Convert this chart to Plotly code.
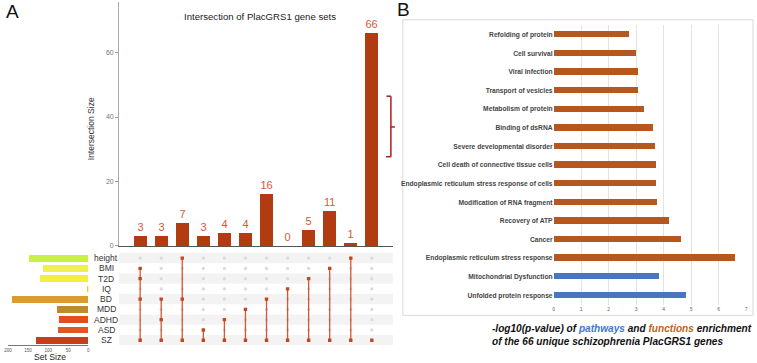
import plotly.graph_objects as go

W, H = 757, 363


def px(x):
    return x / W


def py(y):
    return 1 - y / H


# ---------------- Panel A data (UpSet) ----------------
set_names = ["height", "BMI", "T2D", "IQ", "BD", "MDD", "ADHD", "ASD", "SZ"]
set_sizes = [148, 113, 121, 3, 190, 77, 74, 76, 131]
set_colors = ["#c8f046", "#eef04e", "#f4ee3c", "#f3c640", "#dc9c2c",
              "#bf8a2a", "#e0501e", "#df5a22", "#c3401c"]

intersection_sizes = [3, 3, 7, 3, 4, 4, 16, 0, 5, 11, 1, 66]
intersection_members = [
    ["BMI", "T2D", "BD", "SZ"],
    ["BD", "ADHD", "SZ"],
    ["height", "BD", "SZ"],
    ["ASD", "SZ"],
    ["ADHD", "SZ"],
    ["MDD", "SZ"],
    ["BD", "SZ"],
    ["IQ", "SZ"],
    ["T2D", "SZ"],
    ["BMI", "SZ"],
    ["height", "SZ"],
    ["SZ"],
]
bar_ticks = [0, 20, 40, 60]
set_ticks = [0, 50, 100, 150, 200]

# ---------------- Panel B data ----------------
terms = [
    "Refolding of protein", "Cell survival", "Viral Infection",
    "Transport of vesicles", "Metabolism of protein", "Binding of dsRNA",
    "Severe developmental disorder", "Cell death of connective tissue cells",
    "Endoplasmic reticulum stress response of cells",
    "Modification of RNA fragment", "Recovery of ATP", "Cancer",
    "Endoplasmic reticulum stress response", "Mitochondrial Dysfunction",
    "Unfolded protein response",
]
neglog10_p = [2.74, 3.0, 3.06, 3.06, 3.29, 3.61, 3.69, 3.72, 3.71, 3.73,
              4.18, 4.62, 6.6, 3.83, 4.81]
term_type = ["function"] * 13 + ["pathway"] * 2
type_colors = {"function": "#b4581f", "pathway": "#4a76bf"}

FONT = "Liberation Sans"
BAR_COLOR = "#b23c12"
DOT_COLOR = "#c4461e"

n_sets = len(set_names)
row_of = {s: n_sets - 1 - i for i, s in enumerate(set_names)}
cols = list(range(len(intersection_sizes)))

fig = go.Figure()

# Intersection bars
fig.add_trace(go.Bar(
    x=cols, y=intersection_sizes, xaxis="x", yaxis="y",
    marker=dict(color=BAR_COLOR, line=dict(width=0)), width=0.62,
    text=[str(v) for v in intersection_sizes], textposition="outside",
    outsidetextfont=dict(size=11, color="#d4573a", family=FONT),
    cliponaxis=False, showlegend=False,
))

# Matrix grey dots
gx, gy = [], []
for c, mem in zip(cols, intersection_members):
    for s in set_names:
        if s not in mem:
            gx.append(c)
            gy.append(row_of[s])
fig.add_trace(go.Scatter(
    x=gx, y=gy, xaxis="x2", yaxis="y2", mode="markers",
    marker=dict(color="#dadada", size=3.2), showlegend=False,
))

# Matrix member dots & connectors
for c, mem in zip(cols, intersection_members):
    ys = sorted(row_of[s] for s in mem)
    fig.add_trace(go.Scatter(
        x=[c] * len(ys), y=ys, xaxis="x2", yaxis="y2", mode="lines+markers",
        line=dict(color="#cd5a36", width=1.3),
        marker=dict(color=DOT_COLOR, size=3.4, symbol="square"),
        showlegend=False,
    ))

# Set size bars
fig.add_trace(go.Bar(
    x=set_sizes, y=[row_of[s] for s in set_names], orientation="h",
    xaxis="x3", yaxis="y3", width=0.66,
    marker=dict(color=set_colors, line=dict(width=0)), showlegend=False,
))

# Panel B bars
fig.add_trace(go.Bar(
    x=neglog10_p, y=terms, orientation="h", xaxis="x4", yaxis="y4",
    width=0.34, marker=dict(color=[type_colors[t] for t in term_type],
                            line=dict(width=0)),
    showlegend=False,
))

shapes = []
# stripes
for s in set_names:
    r = row_of[s]
    if r % 2 == 0:
        shapes.append(dict(type="rect", xref="x2 domain", yref="y2",
                           x0=0, x1=1, y0=r - 0.5, y1=r + 0.5,
                           fillcolor="#f3f3f3", line=dict(width=0),
                           layer="below"))
# panel B frame
shapes.append(dict(type="rect", xref="paper", yref="paper",
                   x0=px(402), x1=px(755), y0=py(318), y1=py(20),
                   line=dict(color="#d9d9d9", width=1), layer="below"))
# bracket
bc = "#b01c1c"
for (x0, y0, x1, y1) in [(390, 97, 390, 158), (385.5, 97, 390, 97),
                         (385, 158, 390, 158), (390, 128, 394, 128)]:
    shapes.append(dict(type="line", xref="paper", yref="paper",
                       x0=px(x0), y0=py(y0), x1=px(x1), y1=py(y1),
                       line=dict(color=bc, width=1.5)))

annotations = [
    dict(text="A", x=px(9), y=py(12), font=dict(size=19, color="#111")),
    dict(text="B", x=px(403), y=py(10), font=dict(size=19, color="#111")),
    dict(text="Intersection of PlacGRS1 gene sets", x=px(258), y=py(17),
         font=dict(size=9.6, color="#222")),
    dict(text="Intersection Size", x=px(88), y=py(130), textangle=-90,
         font=dict(size=8.5, color="#333")),
    dict(text="Set Size", x=px(46), y=py(360), font=dict(size=8.6, color="#222")),
    dict(text=("<b><i>-log10(p-value) of <span style='color:#3d79cf'>pathways</span> "
               "and <span style='color:#c0621c'>functions</span> enrichment<br>"
               "of the 66 unique schizophrenia PlacGRS1 genes</i></b>"),
         x=px(490), y=py(338), xanchor="left", align="left",
         font=dict(size=10.1, color="#111")),
]
for s in set_names:
    annotations.append(dict(text=s, x=px(103), y=row_of[s], yref="y2",
                            font=dict(size=8.5, color="#333")))
for a in annotations:
    a.setdefault("xref", "paper")
    a.setdefault("yref", "paper")
    a.setdefault("xanchor", "center")
    a.setdefault("yanchor", "middle")
    a["showarrow"] = False

fig.update_layout(
    width=W, height=H, margin=dict(l=0, r=0, t=0, b=0),
    paper_bgcolor="white", plot_bgcolor="rgba(0,0,0,0)",
    font=dict(family=FONT, color="#333"), bargap=0,
    shapes=shapes, annotations=annotations,
    xaxis=dict(domain=[px(116), px(392)], range=[-1, 12], anchor="y",
               showticklabels=False, ticks="", showgrid=False, zeroline=False,
               showline=True, linecolor="#555", linewidth=1),
    yaxis=dict(domain=[py(248), py(2)], range=[0, 75.7], anchor="x",
               tickvals=bar_ticks, ticks="outside", ticklen=3,
               tickcolor="#999", tickfont=dict(size=7, color="#777"),
               showgrid=False, zeroline=False, showline=True,
               linecolor="#aaa", linewidth=1),
    xaxis2=dict(domain=[px(116), px(392)], range=[-1, 12], anchor="y2",
                visible=False),
    yaxis2=dict(domain=[py(348.2), py(255.1)], range=[-0.5, 8.5],
                anchor="x2", visible=False),
    xaxis3=dict(domain=[px(4), px(85)], range=[200, 0], anchor="y3",
                tickvals=set_ticks, ticks="", tickfont=dict(size=4.5, color="#555"),
                showgrid=False, zeroline=False, showline=True,
                linecolor="#777", linewidth=1),
    yaxis3=dict(domain=[py(348.2), py(255.1)], range=[-0.5, 8.5],
                anchor="x3", visible=False),
    xaxis4=dict(domain=[px(554), px(748)], range=[0, 7], dtick=1,
                anchor="y4", showgrid=True, gridcolor="#e3e3e3",
                gridwidth=1, zeroline=False, showline=False, ticks="",
                tickfont=dict(size=5, color="#666")),
    yaxis4=dict(domain=[py(307.1), py(25.6)], type="category",
                autorange="reversed", anchor="x4", ticks="",
                showgrid=False, showline=False,
                tickfont=dict(size=6.7, color="#444", weight="bold")),
)

fig.write_html(
    "out.html",
    config={"displayModeBar": False},
    post_script="document.body.style.margin='0px';"
                "document.body.style.overflow='hidden';",
)
